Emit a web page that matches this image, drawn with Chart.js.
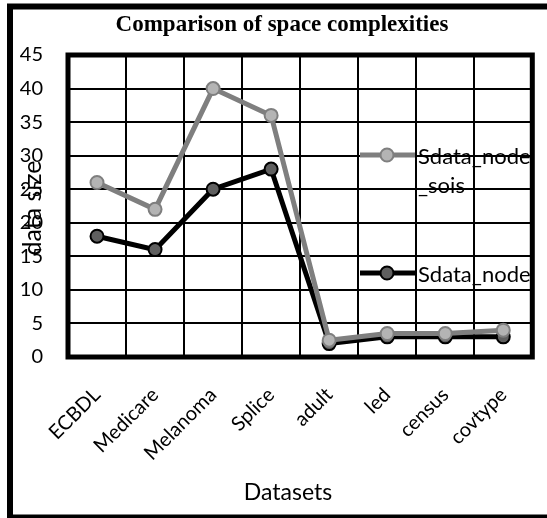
<!DOCTYPE html>
<html>
<head>
<meta charset="utf-8">
<script src="https://cdn.jsdelivr.net/npm/chart.js@4.4.0/dist/chart.umd.min.js"></script>
<style>
  html, body { margin: 0; padding: 0; background: #fff; }
  #wrap { width: 547px; height: 518px; position: relative; }
</style>
</head>
<body>
<div id="wrap"><canvas id="myChart"></canvas></div>
<script>
(function () {

    'use strict';

    // data
    var categories = ['ECBDL', 'Medicare', 'Melanoma', 'Splice', 'adult', 'led', 'census', 'covtype'];
    var sdataNodeSois = [26, 22, 40, 36, 2.5, 3.5, 3.5, 4];
    var sdataNode = [18, 16, 25, 28, 2, 3, 3, 3];
    var seriesNames = ['Sdata_node_sois', 'Sdata_node'];
    var yMin = 0, yMax = 45, yStep = 5;

    var chartTitle = 'Comparison of space complexities';
    var xTitle = 'Datasets';
    var yTitle = 'data size';

    var FONT = 'Lato';

    // frame, plot border, titles and legend (Excel style, legend sits over the plot)
    var decorPlugin = {
        id: 'decor',
        beforeDatasetsDraw: function (chart) {
            var a = chart.chartArea, ctx = chart.ctx;
            ctx.save();
            ctx.strokeStyle = '#000';
            ctx.lineWidth = 5;
            ctx.strokeRect(a.left, a.top, a.right - a.left, a.bottom - a.top);
            ctx.restore();
        },
        afterDraw: function (chart) {
            var ctx = chart.ctx;
            ctx.save();
            // outer frame
            ctx.strokeStyle = '#000';
            ctx.lineWidth = 6;
            ctx.strokeRect(10, 6.5, 560, 511);

            ctx.fillStyle = '#000';
            ctx.textAlign = 'center';
            ctx.textBaseline = 'middle';

            // chart title
            ctx.font = 'bold 23px "Liberation Serif"';
            ctx.fillText(chartTitle, 282, 25);

            // x axis title
            ctx.font = '23px ' + FONT;
            ctx.fillText(xTitle, 288, 493);

            // y axis title, drawn on top of the tick labels like the original
            ctx.font = '25px ' + FONT;
            ctx.translate(33, 208);
            ctx.rotate(-Math.PI / 2);
            ctx.fillText(yTitle, 0, 0);
            ctx.restore();

            // legend
            var rows = [155, 273];
            chart.data.datasets.forEach(function (ds, i) {
                var y = rows[i];
                ctx.save();
                ctx.strokeStyle = ds.borderColor;
                ctx.lineWidth = 5;
                ctx.beginPath();
                ctx.moveTo(360, y);
                ctx.lineTo(415, y);
                ctx.stroke();
                ctx.beginPath();
                ctx.arc(387, y, 6.5, 0, Math.PI * 2);
                ctx.fillStyle = ds.pointBackgroundColor;
                ctx.fill();
                ctx.lineWidth = 2;
                ctx.strokeStyle = ds.pointBorderColor;
                ctx.stroke();

                ctx.fillStyle = '#000';
                ctx.font = '22px ' + FONT;
                ctx.textAlign = 'left';
                ctx.textBaseline = 'middle';
                // wrap the label into the space left before the frame
                var text = ds.label, maxW = 117, lines = [], cur = '';
                for (var k = 0; k < text.length; k++) {
                    if (ctx.measureText(cur + text[k]).width > maxW && cur) {
                        lines.push(cur);
                        cur = '';
                    }
                    cur += text[k];
                }
                lines.push(cur);
                lines.forEach(function (ln, j) {
                    ctx.fillText(ln, 418, y + 2 + j * 29);
                });
                ctx.restore();
            });
        }
    };

    var ctx = document.getElementById('myChart').getContext('2d');
    var myChart = new Chart(ctx, {
        type: 'line',
        data: {
            labels: categories,
            datasets: [{
                label: seriesNames[0],
                data: sdataNodeSois,
                borderColor: '#7f7f7f',
                borderWidth: 5,
                pointRadius: 6.5,
                pointHoverRadius: 6.5,
                pointBorderWidth: 2,
                pointBackgroundColor: '#b4b4b4',
                pointBorderColor: '#7f7f7f',
                tension: 0
            }, {
                label: seriesNames[1],
                data: sdataNode,
                borderColor: '#000000',
                borderWidth: 5,
                pointRadius: 6.5,
                pointHoverRadius: 6.5,
                pointBorderWidth: 2,
                pointBackgroundColor: '#5f5f5f',
                pointBorderColor: '#000000',
                tension: 0
            }]
        },
        options: {
            responsive: true,
            maintainAspectRatio: false,
            animation: false,
            layout: { padding: { left: 13, right: 12, top: 55, bottom: 6 } },
            plugins: {
                legend: { display: false },
                tooltip: { enabled: false },
                title: { display: false }
            },
            scales: {
                x: {
                    offset: true,
                    grid: { offset: true, color: '#000', lineWidth: 2, drawTicks: false },
                    border: { display: false },
                    ticks: {
                        color: '#000',
                        font: { family: FONT, size: 20 },
                        minRotation: 45,
                        maxRotation: 45,
                        padding: 26
                    },
                    afterFit: function (scale) { scale.height = 155; }
                },
                y: {
                    min: yMin,
                    max: yMax,
                    grid: { color: '#000', lineWidth: 2, drawTicks: false },
                    border: { display: false },
                    ticks: {
                        stepSize: yStep,
                        color: '#000',
                        font: { family: FONT, size: 20 },
                        padding: 25
                    },
                    afterFit: function (scale) { scale.width = 55; }
                }
            }
        },
        plugins: [decorPlugin]
    });

})();
</script>
</body>
</html>
